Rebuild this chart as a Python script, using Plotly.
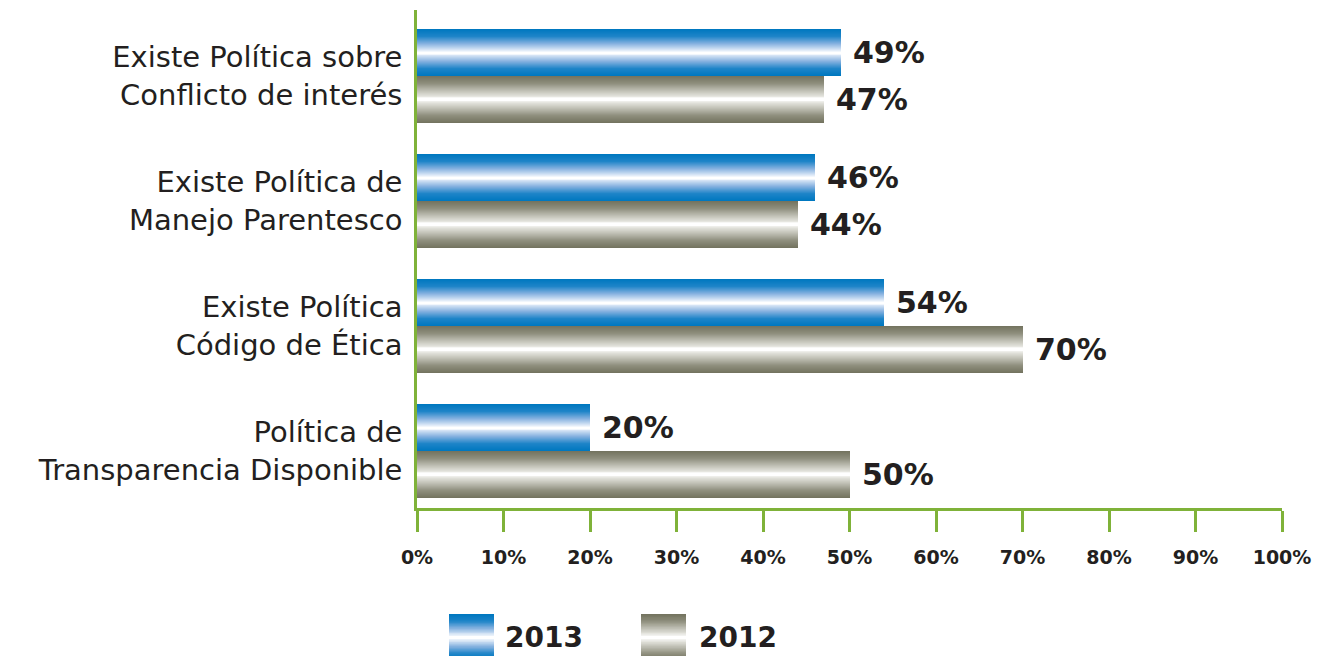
import plotly.graph_objects as go

# ─── Data ────────────────────────────────────────────────────────────────────
categories = [
    "Existe Política sobre<br>Conflicto de interés",
    "Existe Política de<br>Manejo Parentesco",
    "Existe Política<br>Código de Ética",
    "Política de<br>Transparencia Disponible",
]
values_2013 = [49, 46, 54, 20]
values_2012 = [47, 44, 70, 50]
series_names = ["2013", "2012"]
x_ticks = [0, 10, 20, 30, 40, 50, 60, 70, 80, 90, 100]

# ─── Style ───────────────────────────────────────────────────────────────────
# the page body has an 8px margin, so the figure is drawn a bit smaller
PAGE_OFF = 8
W, H = 1329 - PAGE_OFF, 656 - PAGE_OFF
M_L, M_R, M_T, M_B = 417 - PAGE_OFF, 47, 10 - PAGE_OFF, 148
_TEXT = "#231f20"
_GREEN = "#7fb239"
_FONT = "DejaVu Sans"
BAR_W = 0.375
LAYERS = 24

# gradient stops: t = 0 at bar edge, 1 at the bright centre stripe
BLUE_STOPS = [(0.0, (0, 120, 192)), (0.3, (30, 132, 200)), (0.62, (135, 178, 224)),
              (0.85, (205, 223, 243)), (1.0, (255, 255, 255))]
GRAY_STOPS = [(0.0, (116, 116, 96)), (0.3, (142, 142, 125)), (0.62, (192, 192, 181)),
              (0.85, (226, 226, 219)), (1.0, (255, 255, 255))]


def grad(stops, t):
    for (t0, c0), (t1, c1) in zip(stops, stops[1:]):
        if t <= t1:
            f = (t - t0) / (t1 - t0) if t1 > t0 else 0
            c = [round(a + (b - a) * f) for a, b in zip(c0, c1)]
            return f"rgb({c[0]},{c[1]},{c[2]})"
    c = stops[-1][1]
    return f"rgb({c[0]},{c[1]},{c[2]})"


n = len(categories)
ypos = [n - 1 - i for i in range(n)]

fig = go.Figure()

# layered bars fake the metallic gradient: each layer narrower and lighter
for values, stops, side in [(values_2013, BLUE_STOPS, 1), (values_2012, GRAY_STOPS, -1)]:
    for k in range(LAYERS):
        w = BAR_W * (1 - k / LAYERS)
        centre = side * BAR_W / 2
        fig.add_trace(go.Bar(
            x=values, y=ypos, orientation="h",
            width=w, offset=centre - w / 2,
            marker=dict(color=grad(stops, k / (LAYERS - 1)), line=dict(width=0)),
            showlegend=False, hoverinfo="skip",
        ))

# value labels
for values, side in [(values_2013, 1), (values_2012, -1)]:
    for v, y in zip(values, ypos):
        fig.add_annotation(
            x=v, y=y + side * BAR_W / 2, text=f"{v}%",
            xanchor="left", yanchor="middle", xshift=10, showarrow=False,
            font=dict(family=_FONT, size=30, color=_TEXT, weight="bold"),
        )


# ─── Legend (drawn by hand so the swatches keep the gradient) ────────────────
def px_to_paper(px, py):
    # px, py are page pixels
    plot_w = W - M_L - M_R
    plot_h = H - M_T - M_B
    return (px - PAGE_OFF - M_L) / plot_w, (H - M_B - (py - PAGE_OFF)) / plot_h


for (sx, tx), name, stops in zip([(449, 503), (641, 697)], series_names,
                                  [BLUE_STOPS, GRAY_STOPS]):
    top, bot = 614, 661
    mid = (top + bot) / 2
    steps = 16
    for k in range(steps):
        half = (bot - top) / 2 * (1 - k / steps)
        x0, y0 = px_to_paper(sx, mid - half)
        x1, y1 = px_to_paper(sx + 45, mid + half)
        fig.add_shape(type="rect", xref="paper", yref="paper",
                      x0=x0, x1=x1, y0=y1, y1=y0, line=dict(width=0),
                      fillcolor=grad(stops, k / (steps - 1)), layer="above")
    lx, ly = px_to_paper(tx, 637)
    fig.add_annotation(
        x=lx, y=ly, xref="paper", yref="paper", text=name,
        xanchor="left", yanchor="middle", showarrow=False,
        font=dict(family=_FONT, size=28, color=_TEXT, weight="bold"),
    )

fig.update_layout(
    width=W, height=H,
    margin=dict(l=M_L, r=M_R, t=M_T, b=M_B),
    paper_bgcolor="white", plot_bgcolor="white",
    barmode="overlay", bargap=0,
    showlegend=False,
    xaxis=dict(
        range=[0, 100], tickvals=x_ticks, ticktext=[f"{t}%" for t in x_ticks],
        showgrid=False, zeroline=False,
        showline=True, linecolor=_GREEN, linewidth=2.5,
        ticks="outside", ticklen=21, tickwidth=2.5, tickcolor=_GREEN,
        ticklabelstandoff=9,
        tickfont=dict(family=_FONT, size=19, color=_TEXT, weight="bold"),
    ),
    yaxis=dict(
        range=[-0.456, 3.528], tickvals=ypos, ticktext=categories,
        showgrid=False, zeroline=False,
        showline=True, linecolor=_GREEN, linewidth=2.5,
        ticks="", ticklabelstandoff=6,
        tickfont=dict(family=_FONT, size=29, color=_TEXT),
    ),
)

fig.write_html("out.html")
